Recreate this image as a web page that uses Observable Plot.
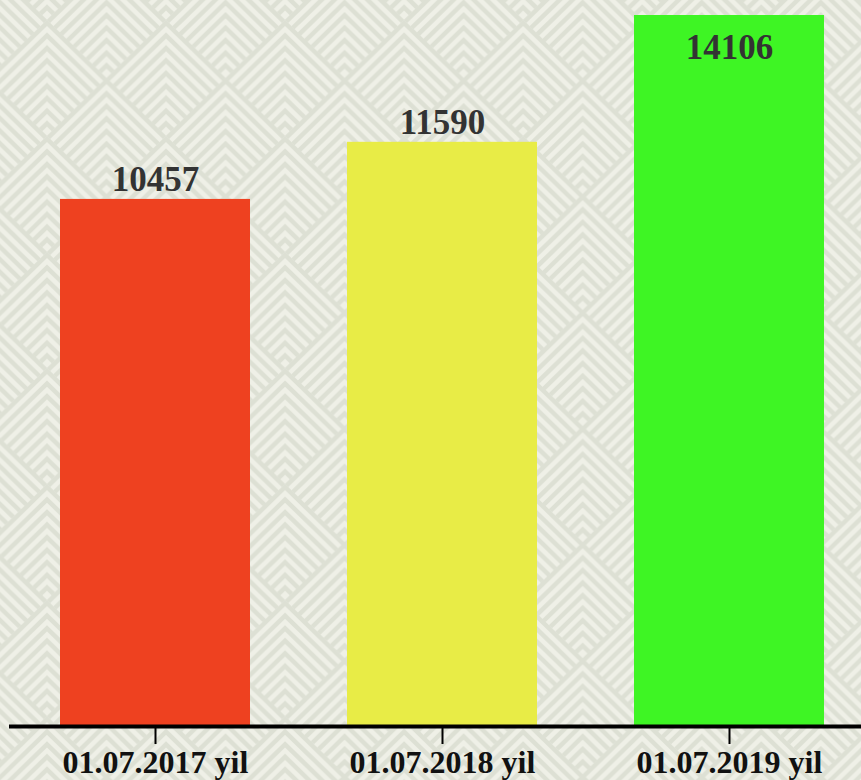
<!DOCTYPE html>
<html><head><meta charset="utf-8">
<script src="https://cdn.jsdelivr.net/npm/d3@7"></script>
<script src="https://cdn.jsdelivr.net/npm/@observablehq/plot@0.6"></script>
<style>
html,body{margin:0;padding:0;width:861px;height:780px;overflow:hidden;background:#eff0e7;}
#bg{position:absolute;left:0;top:0;}
#chart{position:absolute;left:0;top:0;width:880px;}
</style></head><body>
<svg id="bg" width="861" height="780"></svg>
<div id="chart"></div>
<script>
const categories = ["01.07.2017 yil", "01.07.2018 yil", "01.07.2019 yil"];
const values = [10457, 11590, 14106];
const colors = ["#ee4120", "#e8ec46", "#3ef524"];

// decorative chevron background
const bg = d3.select("#bg");
const T = 120, period = 13;
const pat = bg.append("defs").append("pattern")
  .attr("id", "chev").attr("patternUnits", "userSpaceOnUse")
  .attr("width", T).attr("height", T)
  .attr("patternTransform", "translate(47,20) scale(0.992,0.967)");
pat.append("rect").attr("width", T).attr("height", T).attr("fill", "#eff0e7");
const apexes = [[T / 2, -T / 2], [0, 0], [T, 0], [T / 2, T / 2]];
for (const [ax, ay] of apexes) {
  for (let c = 3; c < T; c += period) {
    const L = (T - c) / 2;
    pat.append("path")
      .attr("d", `M${ax - L},${ay + c + L}L${ax},${ay + c}L${ax + L},${ay + c + L}`)
      .attr("fill", "none").attr("stroke", "#dde0d4").attr("stroke-width", 4.5);
  }
}
bg.append("rect").attr("width", 861).attr("height", 780).attr("fill", "url(#chev)");

const data = categories.map((c, i) => ({category: c, value: values[i], color: colors[i]}));
const maxV = d3.max(values);
const font = "'Liberation Serif', 'Times New Roman', serif";

const chart = Plot.plot({
  width: 880, height: 780,
  marginLeft: 9, marginRight: 4, marginTop: 15, marginBottom: 54,
  style: {background: "transparent", fontFamily: font, maxWidth: "none"},
  x: {domain: categories, paddingInner: 0.337, paddingOuter: 0.174, label: null},
  y: {domain: [0, maxV], axis: null},
  marks: [
    Plot.barY(data, {x: "category", y: "value", fill: "color"}),
    Plot.ruleY([0], {stroke: "#000", strokeWidth: 4}),
    Plot.axisX({tickSize: 18, tickPadding: 6, fontSize: 32, fontWeight: "bold",
      fill: "#111", stroke: "#000", strokeWidth: 2, label: null}),
    Plot.text(data.filter(d => d.value < maxV * 0.97), {
      x: "category", y: "value", text: d => String(d.value),
      dy: -20, fontSize: 35, fontWeight: "bold", fill: "#333"}),
    Plot.text(data.filter(d => d.value >= maxV * 0.97), {
      x: "category", y: "value", text: d => String(d.value),
      dy: 32, fontSize: 35, fontWeight: "bold", fill: "#333"})
  ]
});
document.getElementById("chart").append(chart);
</script>
</body></html>
